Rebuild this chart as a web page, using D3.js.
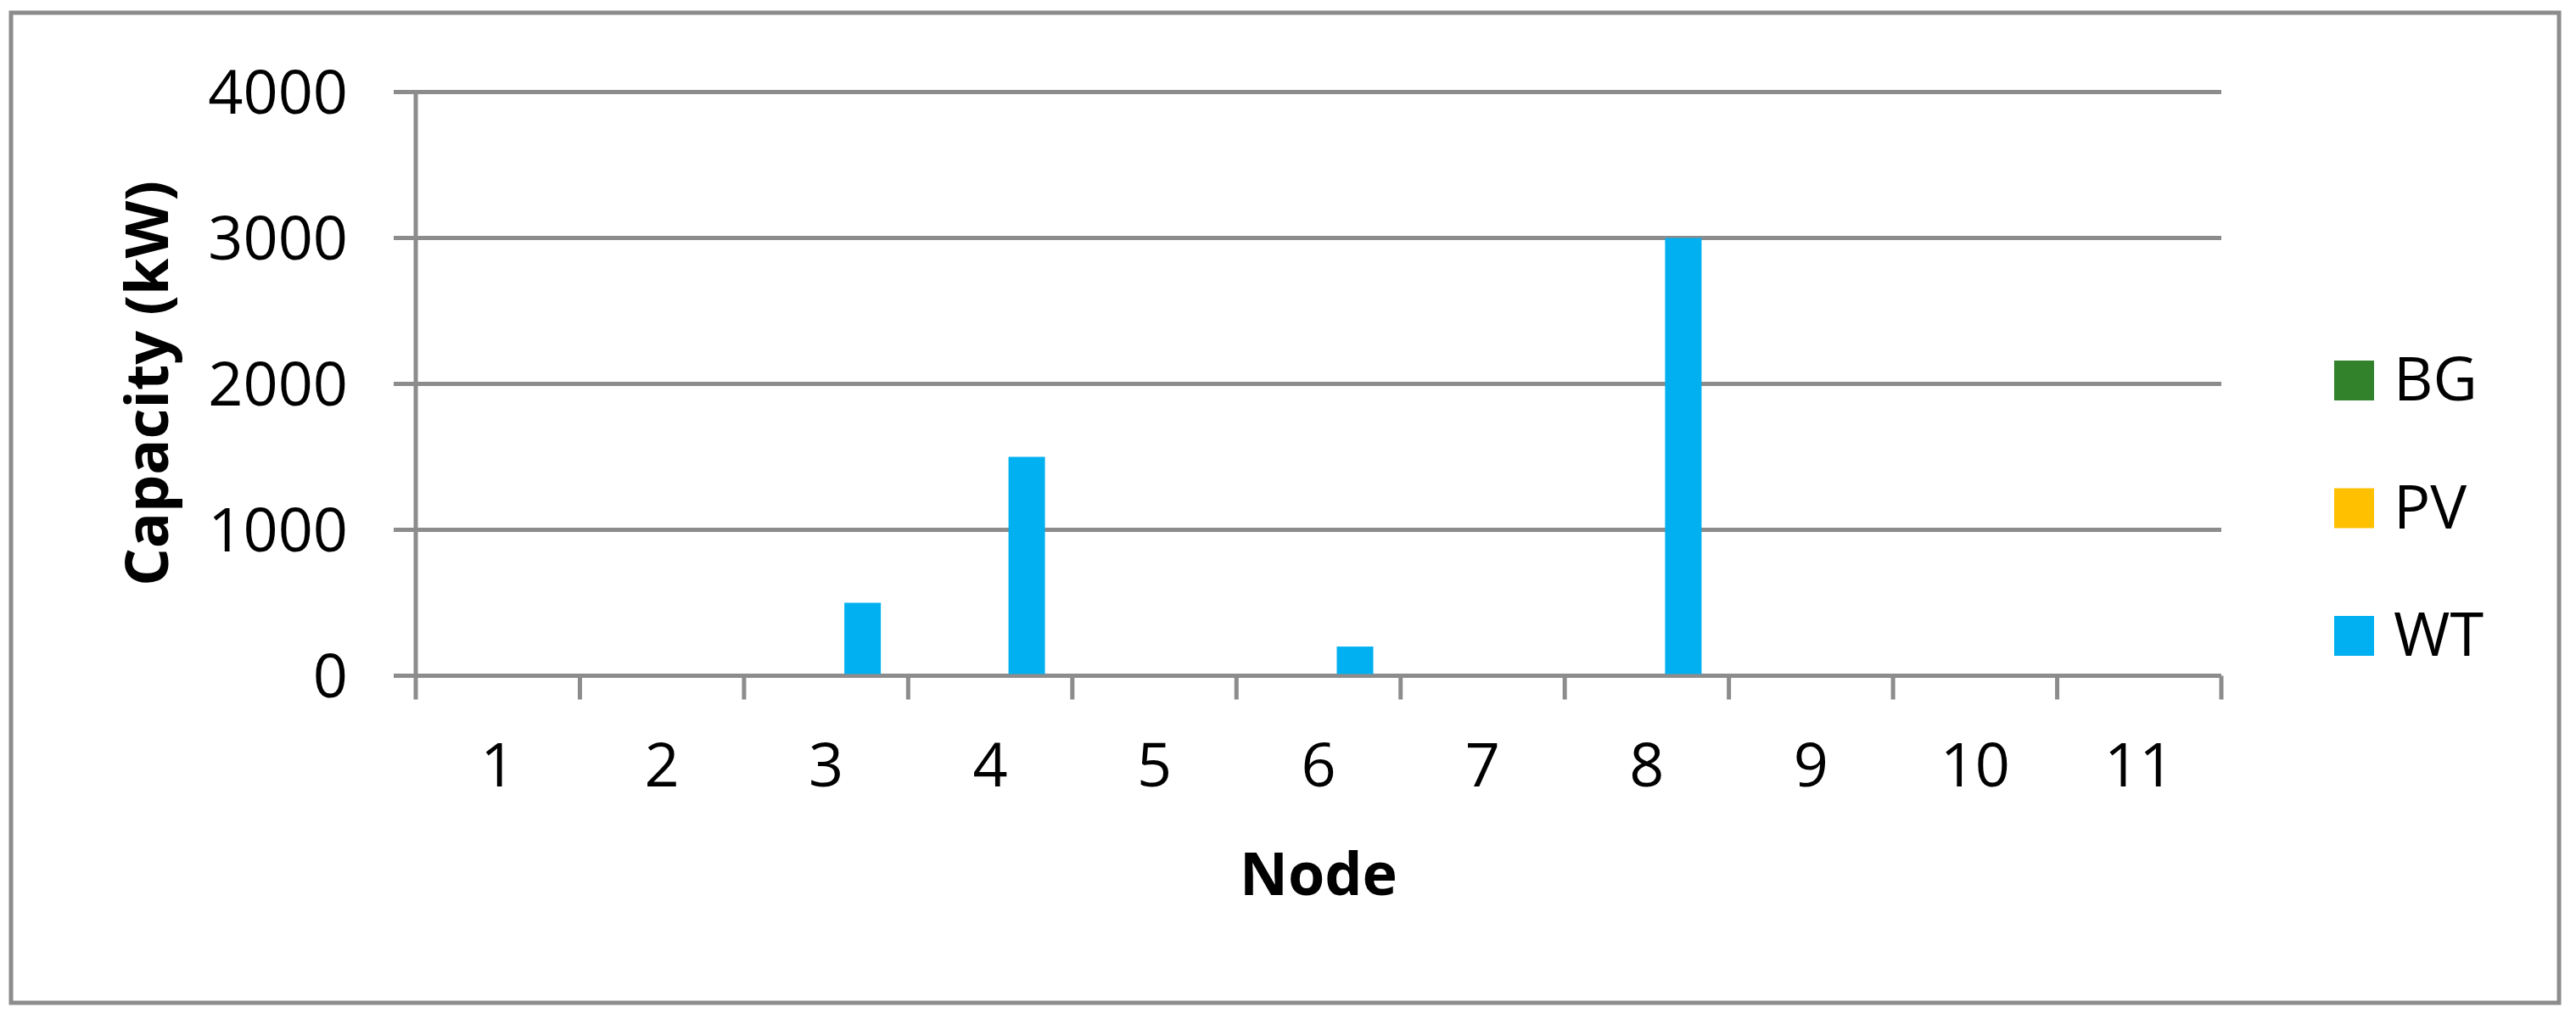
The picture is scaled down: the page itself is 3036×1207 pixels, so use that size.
<html>
<head>
  <meta charset="utf-8">
  <title>Capacity by node</title>
  <script src="https://cdn.jsdelivr.net/npm/d3@7"></script>
  <style>
    body { margin: 0; background: #fff; }
    text { font-family: "Open Sans", "Noto Sans", sans-serif; fill: #000; }
  </style>
</head>
<body>
  <script>
    const nodes = ["1", "2", "3", "4", "5", "6", "7", "8", "9", "10", "11"];
    const seriesNames = ["BG", "PV", "WT"];
    const bgValues = [0, 0, 0, 0, 0, 0, 0, 0, 0, 0, 0];
    const pvValues = [0, 0, 0, 0, 0, 0, 0, 0, 0, 0, 0];
    const wtValues = [0, 0, 500, 1500, 0, 200, 0, 3000, 0, 0, 0];
    const yTicks = [0, 1000, 2000, 3000, 4000];
    const colors = ["#31822b", "#ffc000", "#00b0f0"];

    const width = 3036, height = 1207;
    const plotLeft = 490, plotRight = 2618, plotTop = 108.5, plotBottom = 796.5;
    const grey = "#8c8c8c";

    const svg = d3.select("body").append("svg")
      .attr("width", width).attr("height", height);

    svg.append("rect").attr("width", width).attr("height", height).attr("fill", "#fff");
    // outer chart frame
    svg.append("rect")
      .attr("x", 13).attr("y", 15).attr("width", 3003).attr("height", 1167)
      .attr("fill", "none").attr("stroke", grey).attr("stroke-width", 5);

    const x0 = d3.scaleBand().domain(nodes).range([plotLeft, plotRight]).padding(0);
    const x1 = d3.scaleBand().domain(seriesNames).range([0, x0.bandwidth()])
      .paddingInner(0).paddingOuter(0.75);
    const y = d3.scaleLinear().domain([0, 4000]).range([plotBottom, plotTop]);
    const color = d3.scaleOrdinal().domain(seriesNames).range(colors);

    // gridlines with left tick stubs
    svg.append("g").selectAll("line").data(yTicks).enter().append("line")
      .attr("x1", plotLeft - 26).attr("x2", plotRight)
      .attr("y1", d => y(d)).attr("y2", d => y(d))
      .attr("stroke", grey).attr("stroke-width", 5);

    // y axis line, running down to the tick length
    svg.append("line")
      .attr("x1", plotLeft).attr("x2", plotLeft).attr("y1", plotTop - 2).attr("y2", plotBottom + 28)
      .attr("stroke", grey).attr("stroke-width", 5);

    // x category separators
    const bounds = nodes.map(n => x0(n)).concat([x0.range()[1]]);
    svg.append("g").selectAll("line").data(bounds.slice(1)).enter().append("line")
      .attr("x1", d => d).attr("x2", d => d)
      .attr("y1", plotBottom).attr("y2", plotBottom + 28)
      .attr("stroke", grey).attr("stroke-width", 5);

    // bars
    const rows = nodes.map((n, i) => ({
      node: n,
      vals: [bgValues[i], pvValues[i], wtValues[i]]
    }));
    svg.append("g").selectAll("g").data(rows).enter().append("g")
      .attr("transform", d => `translate(${x0(d.node)},0)`)
      .selectAll("rect")
      .data(d => seriesNames.map((s, k) => ({ s: s, v: d.vals[k] })))
      .enter().append("rect")
      .attr("x", d => x1(d.s))
      .attr("width", x1.bandwidth())
      .attr("y", d => y(d.v))
      .attr("height", d => y(0) - y(d.v) - (d.v > 0 ? 2 : 0))
      .attr("fill", d => color(d.s));

    // y tick labels
    svg.append("g").selectAll("text").data(yTicks).enter().append("text")
      .attr("x", 410).attr("y", d => y(d) + 25)
      .attr("text-anchor", "end")
      .style("font-size", "72px")
      .text(d => d);

    // x tick labels
    svg.append("g").selectAll("text").data(nodes).enter().append("text")
      .attr("x", d => x0(d) + x0.bandwidth() / 2).attr("y", 927)
      .attr("text-anchor", "middle")
      .style("font-size", "72px")
      .text(d => d);

    // axis titles
    svg.append("text")
      .attr("x", (plotLeft + plotRight) / 2).attr("y", 1055)
      .attr("text-anchor", "middle")
      .style("font-size", "70px").style("font-weight", "bold")
      .text("Node");

    svg.append("text")
      .attr("transform", "translate(198,452) rotate(-90)")
      .attr("text-anchor", "middle")
      .style("font-size", "70px").style("font-weight", "bold")
      .text("Capacity (kW)");

    // legend
    const legend = svg.append("g").selectAll("g").data(seriesNames).enter().append("g")
      .attr("transform", (d, i) => `translate(2751,${425 + i * 150.5})`);
    legend.append("rect")
      .attr("width", 47).attr("height", 47)
      .attr("fill", d => color(d));
    legend.append("text")
      .attr("x", 70).attr("y", 47)
      .style("font-size", "72px")
      .text(d => d);
  </script>
</body>
</html>
